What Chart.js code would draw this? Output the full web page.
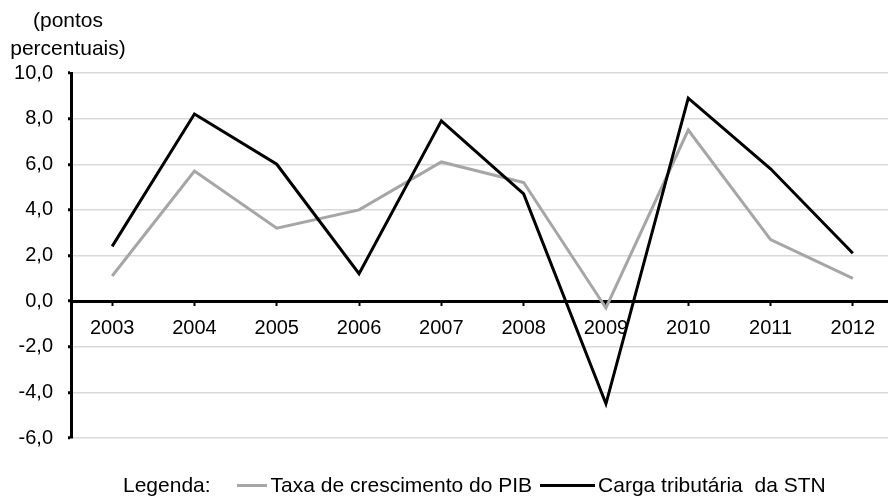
<!DOCTYPE html>
<html>
<head>
<meta charset="utf-8">
<script src="https://cdn.jsdelivr.net/npm/chart.js@4/dist/chart.umd.min.js"></script>
<style>
  html, body { margin: 0; padding: 0; background: #fff; overflow: hidden; }
  body { width: 888px; height: 496px; position: relative; font-family: 'Liberation Sans', Arial, sans-serif; }
  #wrap { position: absolute; left: 0; top: 0; width: 894px; height: 496px; }
  #unit { position: absolute; left: 0; top: 6px; width: 136px; text-align: center; font-size: 21px; line-height: 28px; color: #000; }
  #legend { position: absolute; left: 123px; top: 473px; height: 24px; display: flex; align-items: center; font-size: 21px; line-height: 24px; color: #000; white-space: pre; }
  #legend .line { display: inline-block; height: 3px; }
</style>
</head>
<body>
<div id="wrap"><canvas id="chart"></canvas></div>
<div id="unit">(pontos<br>percentuais)</div>
<div id="legend">
  <span>Legenda:</span>
  <span class="line" style="width:30px;background:#a6a6a6;margin-left:26px"></span>
  <span style="margin-left:4px">Taxa de crescimento do PIB</span>
  <span class="line" style="width:55px;background:#000;margin-left:8px"></span>
  <span style="margin-left:3px">Carga tributária  da STN</span>
</div>
<script>
// ---- dados ----
const anos = ['2003', '2004', '2005', '2006', '2007', '2008', '2009', '2010', '2011', '2012'];
const pib   = [1.1, 5.7, 3.2, 4.0, 6.1, 5.2, -0.3, 7.5, 2.7, 1.0];
const carga = [2.4, 8.2, 6.0, 1.2, 7.9, 4.7, -4.5, 8.9, 5.8, 2.1];
const yTicks = [-6, -4, -2, 0, 2, 4, 6, 8, 10];

const tickFont = { family: "'Liberation Sans', Arial, sans-serif", size: 20 };

new Chart(document.getElementById('chart'), {
  type: 'line',
  data: {
    labels: anos,
    datasets: [
      { label: 'Taxa de crescimento do PIB', data: pib, borderColor: '#a6a6a6', borderWidth: 3, order: 1 },
      { label: 'Carga tributária  da STN', data: carga, borderColor: '#000000', borderWidth: 3, order: 0 }
    ]
  },
  options: {
    responsive: true,
    maintainAspectRatio: false,
    animation: false,
    layout: { padding: { top: 73, bottom: 58, left: 0, right: 0 } },
    elements: { point: { radius: 0 }, line: { tension: 0, borderJoinStyle: 'miter' } },
    plugins: { legend: { display: false }, tooltip: { enabled: false } },
    scales: {
      x: {
        position: { y: 0 },
        offset: true,
        grid: { drawOnChartArea: false, drawTicks: true, tickLength: 3, tickWidth: 2, tickColor: '#000', offset: false },
        border: { display: true, color: '#000', width: 3 },
        ticks: { color: '#000', font: tickFont, padding: 12, maxRotation: 0, autoSkip: false }
      },
      y: {
        min: yTicks[0],
        max: yTicks[yTicks.length - 1],
        afterFit: (scale) => { scale.width = 71; },
        afterBuildTicks: (scale) => { scale.ticks = yTicks.map(v => ({ value: v })); },
        grid: { color: '#d9d9d9', lineWidth: 1.5, drawTicks: true, tickLength: 3, tickWidth: 3, tickColor: '#000' },
        border: { display: true, color: '#000', width: 3 },
        ticks: {
          color: '#000', font: tickFont, padding: 15,
          callback: (v) => v.toFixed(1).replace('.', ',')
        }
      }
    }
  }
});
</script>
</body>
</html>
